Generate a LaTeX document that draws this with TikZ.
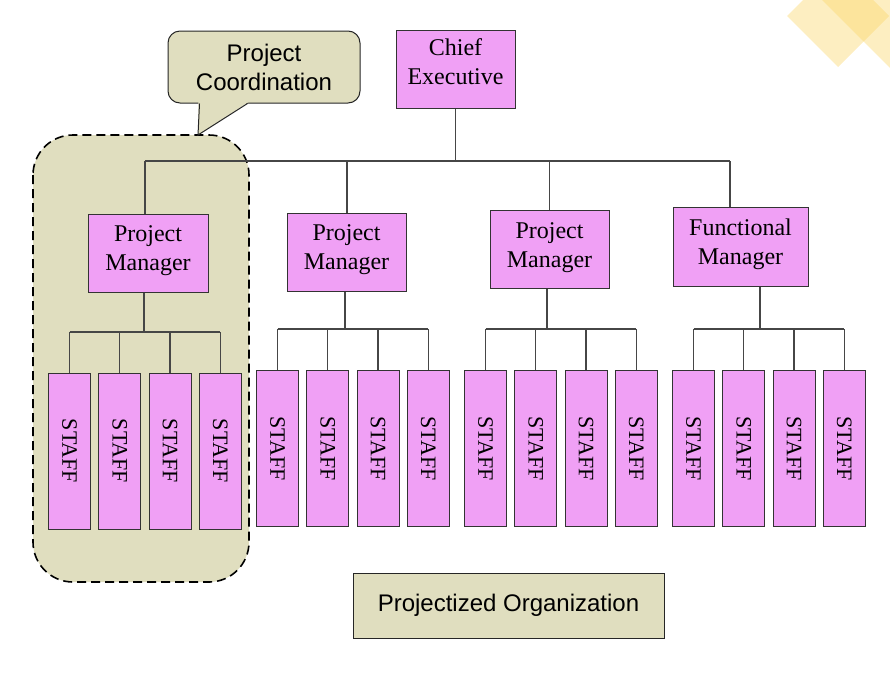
\documentclass[tikz,border=0pt]{standalone}
\usepackage{fontspec}
\setmainfont{Liberation Serif}
\setsansfont{Liberation Sans}
\usetikzlibrary{positioning,calc}

\definecolor{boxpink}{RGB}{240,160,245}
\definecolor{khaki}{RGB}{224,222,191}
\definecolor{wire}{RGB}{70,70,70}
\definecolor{sunny}{RGB}{250,212,100}

\tikzset{
  role/.style={draw=black!80, fill=boxpink, line width=1pt, align=center,
    inner sep=0pt, text depth=9.5pt, font=\fontsize{24}{29}\selectfont},
  staffbox/.style={role, rotate=-90, minimum width=156, minimum height=42,
    text depth=, font=\fontsize{22}{26}\selectfont},
  wires/.style={draw=wire, line width=1.3pt},
  note/.style={draw=black!85, fill=khaki, line width=1pt, inner sep=0pt,
    align=center, font=\sffamily\fontsize{24}{29}\selectfont}
}

\begin{document}
\begin{tikzpicture}[x=1pt,y=-1pt]
   \useasboundingbox (0,0) rectangle (890,686);
   % corner ornament
   \begin{scope}
     \clip (0,0) rectangle (890,686);
     \fill[sunny, opacity=0.4] (838,-35) -- (889,16) -- (838,67) -- (787,16) -- cycle;
     \fill[sunny, opacity=0.4] (822,0) -- (900,78) -- (960,18) -- (882,-60) -- cycle;
   \end{scope}

   % project coordination group
   \draw[line width=1.6pt, dash pattern=on 9pt off 5pt, fill=khaki, rounded corners=40]
     (33,135) rectangle (249,582);
   \coordinate (tip) at (198,135);
   \node[note, rounded corners=12, minimum width=192, minimum height=72] (coord)
     at (264,67) {Project\\Coordination};
   \fill[khaki] ($(coord.south west)+(31,-1.5)$) -- (tip) -- ($(coord.south west)+(81,-1.5)$) -- cycle;
   \draw[black!85, line width=1pt] ($(coord.south west)+(32,0)$) -- (tip)
     -- ($(coord.south west)+(80,0)$);

   % managers
   \node[role, minimum width=119, minimum height=78, text depth=14pt] (ceo) at (455.5,69) {Chief\\Executive};
   \node[role, minimum width=120, minimum height=78] (pmA) at (148,253) {Project\\Manager};
   \node[role, minimum width=119, minimum height=78] (pmB) at (346.5,252) {Project\\Manager};
   \node[role, minimum width=119, minimum height=78] (pmC) at (549.5,249.5) {Project\\Manager};
   \node[role, minimum width=135, minimum height=79] (fm) at (740.5,246.5) {Functional\\Manager};

   \coordinate (hub) at (ceo.south |- 0,161);
   \coordinate (tA) at (145,161);
   \coordinate (tB) at (347,161);
   \coordinate (tC) at (549.5,161);
   \coordinate (tD) at (730,161);
   \path[wires]
     (ceo) edge (hub)
     (tA) edge (tD)
     (tA) edge (tA |- pmA.north)
     (tB) edge (tB |- pmB.north)
     (tC) edge (tC |- pmC.north)
     (tD) edge (tD |- fm.north);

   % staff
   \foreach \g/\y in {0/451,1/448.5,2/448.5,3/448.5}
     \foreach \i in {0,...,3}
       \node[staffbox] (s\g\i) at ({69.5+208*\g+50.3*\i},\y) {STAFF};

   \coordinate (jA) at (144,332);
   \coordinate (jB) at (345,329);
   \coordinate (jC) at (547,329);
   \coordinate (jD) at (760,329);
   \path[wires]
     (pmA.south -| jA) edge (jA)
     (pmB.south -| jB) edge (jB)
     (pmC.south -| jC) edge (jC)
     (fm.south -| jD) edge (jD);

   \foreach \g/\m in {0/jA,1/jB,2/jC,3/jD} {
     \draw[wires] (s\g0.west |- \m) -- (s\g3.west |- \m);
     \foreach \i in {0,...,3}
       \draw[wires] (s\g\i.west |- \m) -- (s\g\i.west);
   }

   \node[note, minimum width=311, minimum height=65] (title) at (508.5,605.5)
     {Projectized Organization};
\end{tikzpicture}
\end{document}
